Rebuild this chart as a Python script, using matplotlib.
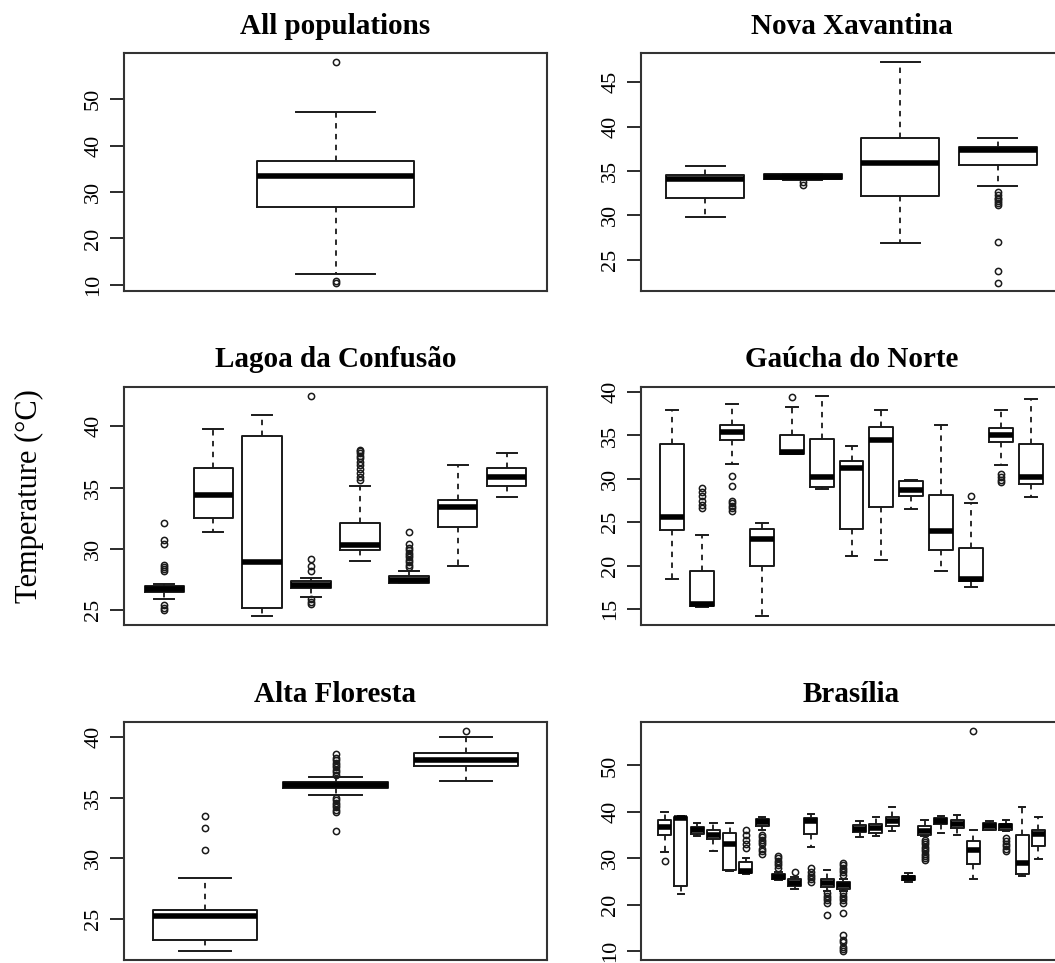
import matplotlib
matplotlib.use("Agg")
import matplotlib.pyplot as plt

plt.rcParams['font.family'] = ['Liberation Serif', 'DejaVu Serif']

# ---------------- data ----------------
titles = ["All populations", "Nova Xavantina", "Lagoa da Confusão",
          "Gaúcha do Norte", "Alta Floresta", "Brasília"]
ylabel = "Temperature (°C)"

# All populations
all_q1 = [26.8]; all_med = [33.5]; all_q3 = [36.7]; all_lo = [12.4]; all_hi = [47.3]
all_fl = [[58.0, 10.9, 10.5]]
all_ticks = [10, 20, 30, 40, 50]

# Nova Xavantina
nx_q1 = [31.9, 34.1, 32.2, 35.7]
nx_med = [34.1, 34.3, 35.9, 37.4]
nx_q3 = [34.5, 34.6, 38.7, 37.7]
nx_lo = [29.8, 34.0, 26.9, 33.3]
nx_hi = [35.5, 34.6, 47.3, 38.7]
nx_fl = [[], [33.7, 33.4],
         [],
         [32.6, 32.3, 32.0, 31.8, 31.6, 31.4, 31.2, 27.0, 23.7, 22.4]]
nx_ticks = [25, 30, 35, 40, 45]

# Lagoa da Confusão
lc_q1 = [26.5, 32.5, 25.2, 26.8, 29.9, 27.2, 31.8, 35.1]
lc_med = [26.7, 34.4, 28.9, 27.05, 30.3, 27.45, 33.4, 35.9]
lc_q3 = [26.95, 36.6, 39.2, 27.35, 32.1, 27.75, 34.0, 36.6]
lc_lo = [25.9, 31.4, 24.5, 26.1, 29.05, 27.2, 28.6, 34.25]
lc_hi = [27.1, 39.8, 40.9, 27.6, 35.1, 28.2, 36.8, 37.8]
lc_fl = [[28.2, 28.35, 28.5, 28.7, 30.4, 30.7, 32.1, 25.4, 25.2, 25.0],
         [], [],
         [28.2, 28.6, 29.2, 42.5, 25.9, 25.7, 25.5],
         [35.6, 35.9, 36.2, 36.5, 36.8, 37.1, 37.4, 37.6, 37.8, 38.0, 38.1],
         [28.5, 28.7, 28.9, 29.1, 29.3, 29.5, 29.7, 29.9, 30.1, 30.4, 31.4],
         [], []]
lc_ticks = [25, 30, 35, 40]

# Gaúcha do Norte
gn_q1 = [24.1, 15.3, 34.5, 20.0, 32.9, 29.05, 24.2, 26.7, 28.0, 21.8, 18.2, 34.3, 29.4]
gn_med = [25.6, 15.6, 35.4, 23.05, 33.1, 30.2, 31.2, 34.5, 28.7, 24.0, 18.5, 35.1, 30.2]
gn_q3 = [34.0, 19.4, 36.2, 24.2, 35.1, 34.6, 32.1, 36.0, 29.7, 28.1, 22.0, 35.9, 34.0]
gn_lo = [18.4, 15.2, 31.7, 14.15, 32.9, 28.8, 21.1, 20.7, 26.5, 19.4, 17.55, 31.6, 27.9]
gn_hi = [37.9, 23.55, 38.6, 24.9, 38.3, 39.6, 33.8, 37.9, 29.9, 36.2, 27.2, 37.9, 39.2]
gn_fl = [[],
         [28.9, 28.5, 28.0, 27.5, 27.0, 26.6],
         [30.3, 29.2, 27.5, 27.2, 26.9, 26.6, 26.3],
         [],
         [39.4],
         [], [], [], [], [],
         [28.0],
         [30.6, 30.2, 29.9, 29.6],
         []]
gn_ticks = [15, 20, 25, 30, 35, 40]

# Alta Floresta
af_q1 = [23.25, 35.82, 37.6]
af_med = [25.2, 36.06, 38.15]
af_q3 = [25.7, 36.3, 38.7]
af_lo = [22.3, 35.2, 36.4]
af_hi = [28.4, 36.72, 40.0]
af_fl = [[30.7, 32.5, 33.5],
         [36.9, 37.1, 37.3, 37.5, 37.7, 37.9, 38.1, 38.3, 38.6,
          35.0, 34.8, 34.6, 34.4, 34.2, 34.0, 33.8, 32.25],
         [40.55]]
af_ticks = [25, 30, 35, 40]

# Brasília
br_q1 = [35.0, 24.0, 35.3, 34.1, 27.5, 26.8, 37.0, 25.5, 24.0, 35.3, 23.8, 23.5,
         35.6, 35.5, 36.9, 25.4, 35.0, 37.3, 36.5, 28.8, 36.2, 36.2, 26.6, 32.7]
br_med = [36.7, 38.7, 36.0, 35.1, 33.2, 27.3, 37.8, 26.0, 24.6, 38.0, 24.6, 24.3,
          36.3, 36.5, 38.1, 25.8, 35.8, 38.1, 37.4, 31.9, 36.9, 36.9, 29.1, 35.3]
br_q3 = [38.3, 39.0, 36.7, 36.2, 35.5, 29.3, 38.4, 26.6, 25.5, 38.6, 25.5, 25.0,
         37.2, 37.4, 39.0, 26.3, 36.9, 38.7, 38.3, 33.7, 37.6, 37.4, 35.1, 36.2]
br_lo = [31.3, 22.4, 34.8, 31.5, 27.2, 26.6, 36.0, 25.3, 23.5, 32.4, 23.0, 23.0,
         34.6, 34.8, 35.8, 25.0, 34.8, 35.5, 35.1, 25.6, 36.0, 35.8, 26.3, 29.8]
br_hi = [39.9, 39.1, 37.6, 37.6, 37.6, 30.0, 38.9, 27.0, 26.0, 39.6, 27.5, 25.6,
         38.0, 39.0, 41.0, 26.8, 38.3, 39.2, 39.4, 36.2, 38.0, 38.3, 41.0, 39.0]
br_fl = [[29.4],
         [],
         [],
         [],
         [],
         [32.2, 33.0, 34.0, 35.0, 36.0],
         [35.0, 34.5, 34.0, 33.5, 33.0, 32.0, 31.5, 31.0],
         [28.0, 28.5, 29.0, 29.5, 30.0, 30.5],
         [27.0],
         [28.0, 27.0, 26.5, 26.0, 25.5, 25.0],
         [22.5, 22.0, 21.5, 21.0, 20.5, 17.8],
         [26.5, 27.0, 27.5, 28.0, 28.5, 29.0,
          22.5, 22.0, 21.5, 21.0, 20.5, 18.2, 13.5, 12.5, 12.0, 11.0, 10.5, 10.0],
         [], [], [], [],
         [34.0, 33.5, 33.0, 32.5, 32.0, 31.5, 31.0, 30.5, 30.0, 29.6],
         [], [],
         [57.5],
         [],
         [34.4, 33.8, 33.2, 32.6, 32.0, 31.5],
         [], []]
br_ticks = [10, 20, 30, 40, 50]

panels = [
    (all_q1, all_med, all_q3, all_lo, all_hi, all_fl, all_ticks),
    (nx_q1, nx_med, nx_q3, nx_lo, nx_hi, nx_fl, nx_ticks),
    (lc_q1, lc_med, lc_q3, lc_lo, lc_hi, lc_fl, lc_ticks),
    (gn_q1, gn_med, gn_q3, gn_lo, gn_hi, gn_fl, gn_ticks),
    (af_q1, af_med, af_q3, af_lo, af_hi, af_fl, af_ticks),
    (br_q1, br_med, br_q3, br_lo, br_hi, br_fl, br_ticks),
]

# ---------------- layout ----------------
W, H = 1055, 963
fig = plt.figure(figsize=(W / 100, H / 100), dpi=100)

col_left = [124, 641]
col_width = [423, 421]
row_top = [53, 386.7, 721.7]
row_height = 238.5

line_col = "#1a1a1a"

for idx, (q1, med, q3, lo, hi, fl, ticks) in enumerate(panels):
    r, c = divmod(idx, 2)
    x0 = col_left[c] / W
    w = col_width[c] / W
    y0 = 1 - (row_top[r] + row_height) / H
    h = row_height / H
    ax = fig.add_axes([x0, y0, w, h])

    n = len(q1)
    stats = []
    for i in range(n):
        stats.append(dict(q1=q1[i], med=med[i], q3=q3[i], whislo=lo[i],
                          whishi=hi[i], fliers=fl[i]))
    ax.bxp(stats, positions=list(range(1, n + 1)), widths=0.8,
           showfliers=True, patch_artist=False,
           boxprops=dict(color=line_col, lw=1.4),
           medianprops=dict(color="black", lw=4.0, solid_capstyle="butt"),
           whiskerprops=dict(color=line_col, lw=1.3, linestyle=(0, (3, 3))),
           capprops=dict(color=line_col, lw=1.4),
           capwidths=0.4,
           flierprops=dict(marker="o", markerfacecolor="none",
                           markeredgecolor=line_col, markersize=4.5,
                           markeredgewidth=1.1, linestyle="none"))

    # R-style axis ranges (4% padding)
    if n == 1:
        xlo, xhi = 0.0, 2.0
    else:
        xlo, xhi = 0.5, n + 0.5
    xr = xhi - xlo
    ax.set_xlim(xlo - 0.04 * xr, xhi + 0.04 * xr)
    allv = list(lo) + list(hi) + [v for f in fl for v in f]
    ymin, ymax = min(allv), max(allv)
    yr = ymax - ymin
    ax.set_ylim(ymin - 0.04 * yr, ymax + 0.04 * yr)

    ax.set_xticks([])
    ax.set_yticks(ticks)
    ax.set_yticklabels([str(t) for t in ticks], rotation=90, va="center",
                       fontsize=16)
    ax.tick_params(axis="y", length=10, width=1.3, color=line_col, pad=5)
    for sp in ax.spines.values():
        sp.set_linewidth(1.5)
        sp.set_color("#333333")

    ax.text(0.5, 1 + 27 / row_height, titles[idx], transform=ax.transAxes,
            ha="center", va="center", fontsize=21, fontweight="bold")

fig.text(29 / W, 1 - 496 / H, ylabel, rotation=90, ha="center", va="center",
         fontsize=22)

fig.savefig("out.png", dpi=100)
